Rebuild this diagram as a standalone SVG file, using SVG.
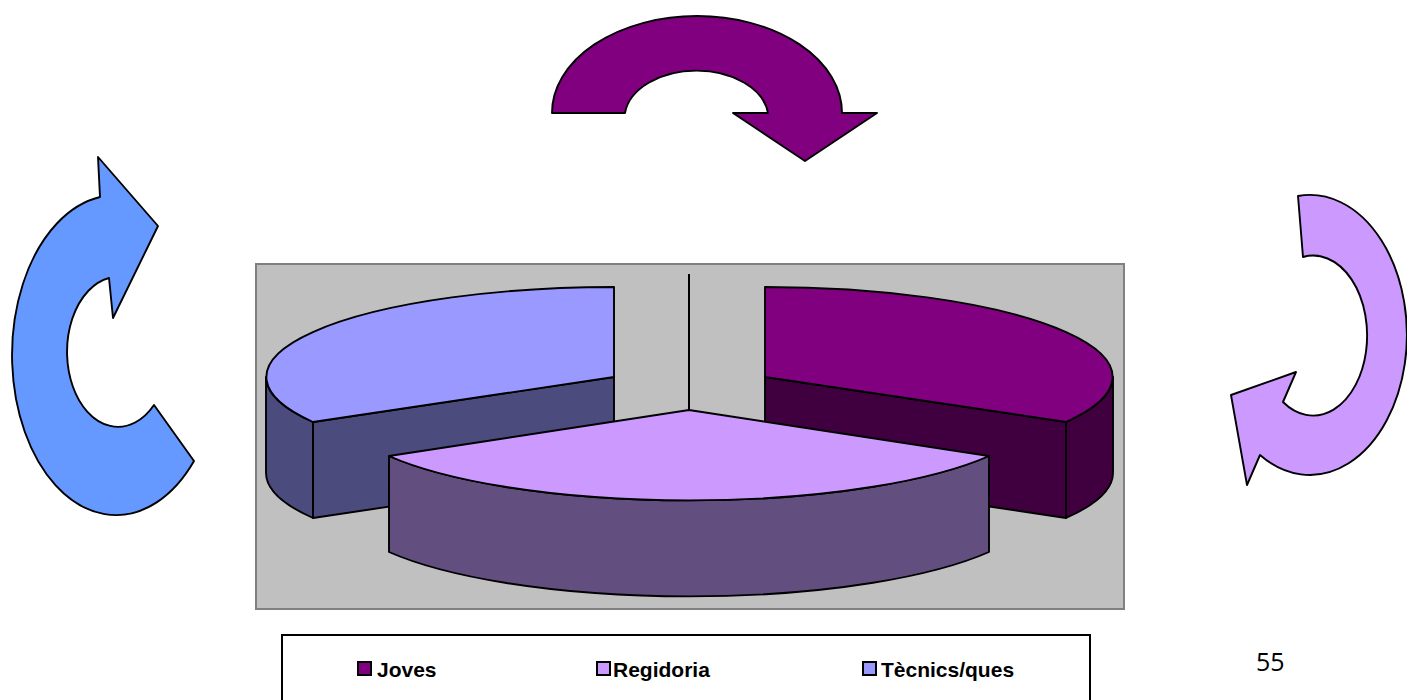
<svg xmlns="http://www.w3.org/2000/svg" width="1407" height="700" viewBox="0 0 1407 700">
<style>
.s{stroke:#000;stroke-width:1.9;stroke-linejoin:round}
.lg{font-family:"Liberation Sans",Arial,sans-serif;font-weight:bold;font-size:21px;fill:#000}
</style>
<rect width="1407" height="700" fill="#fff"/>
<g id="arrow-top">
<path class="s" fill="#800080" d="M 552 113 A 145 97 0 0 1 842 113 L 877 113 L 805 161 L 733 113 L 768 113 A 72 48 0 0 0 625 113 Z"/>
</g>
<g id="arrow-left">
<path class="s" fill="#6699FF" d="M 98 157 L 158 226 L 113 318 L 109 278 A 51 75 0 1 0 154 405 L 194 461 A 104 160 0 1 1 100 197 Z"/>
</g>
<g id="arrow-right">
<path class="s" fill="#CC99FF" d="M 1298 196 A 97 140 0 1 1 1260 455 L 1247 485 L 1231 395 L 1296 372 L 1283 402 A 54 80 0 1 0 1303 257 Z"/>
</g>
<g id="chart">
<rect x="256" y="264" width="868" height="345" fill="#C0C0C0" stroke="#808080" stroke-width="2"/>
<line x1="689" y1="274" x2="689" y2="410" stroke="#000" stroke-width="2"/>
<g id="tecnics">
<path class="s" fill="#4B4B7D" d="M 266 377 A 348 90 0 0 0 313 422 L 313 518 A 348 90 0 0 1 266 473 Z"/>
<path class="s" fill="#4B4B7D" d="M 313 422 L 614 377 L 614 473 L 313 518 Z"/>
<path class="s" fill="#9999FF" d="M 614 377 L 614 287 A 348 90 0 0 0 313 422 Z"/>
</g>
<g id="joves">
<path class="s" fill="#400040" d="M 1113 377 A 348 90 0 0 1 1066 422 L 1066 518 A 348 90 0 0 0 1113 473 Z"/>
<path class="s" fill="#400040" d="M 765 377 L 1066 422 L 1066 518 L 765 473 Z"/>
<path class="s" fill="#800080" d="M 765 377 L 765 287 A 348 90 0 0 1 1066 422 Z"/>
</g>
<g id="regidoria">
<path class="s" fill="#634E80" d="M 389 456 A 348 90 0 0 0 989 456 L 989 552 A 348 90 0 0 1 389 552 Z"/>
<path class="s" fill="#CC99FF" d="M 689 410 L 389 456 A 348 90 0 0 0 989 456 Z"/>
</g>
</g>
<g id="legend">
<rect x="282" y="635" width="808" height="70" fill="#fff" stroke="#000" stroke-width="2"/>
<rect x="358" y="662" width="13" height="13" fill="#800080" stroke="#000" stroke-width="2"/>
<text class="lg" x="377" y="677">Joves</text>
<rect x="597" y="662" width="13" height="13" fill="#CC99FF" stroke="#000" stroke-width="2"/>
<text class="lg" x="613" y="677">Regidoria</text>
<rect x="863" y="662" width="13" height="13" fill="#9999FF" stroke="#000" stroke-width="2"/>
<text class="lg" x="881" y="677">Tècnics/ques</text>
</g>
<text x="1256" y="671" font-family="'Open Sans',sans-serif" font-size="25" fill="#000">55</text>
</svg>
